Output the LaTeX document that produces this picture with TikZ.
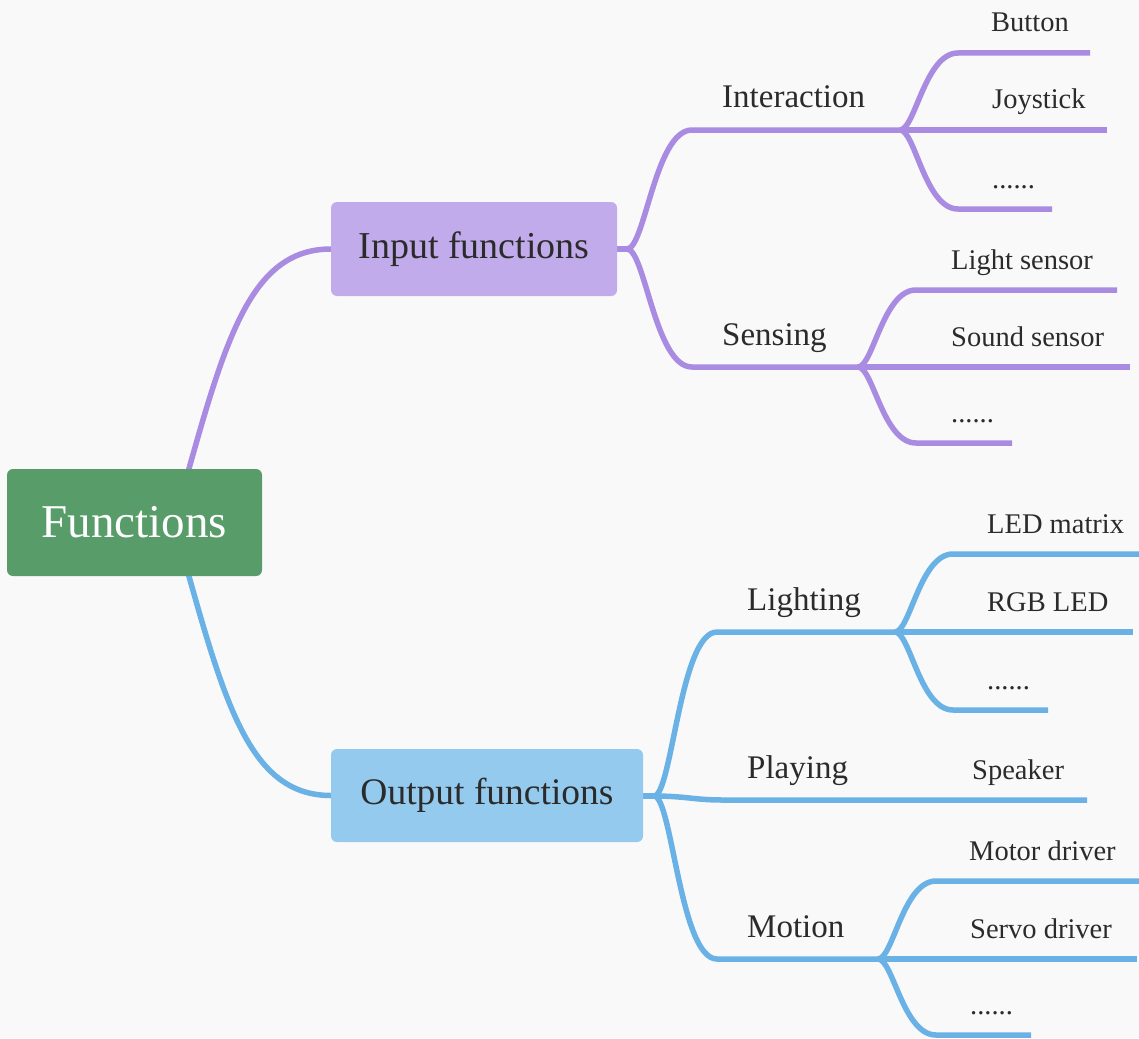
\documentclass[tikz,border=0pt]{standalone}
\usepackage{fontspec}
\setmainfont{Liberation Serif}
\definecolor{bgc}{HTML}{F9F9FA}
\definecolor{purp}{HTML}{A98BE1}
\definecolor{purpfill}{HTML}{C1ABEB}
\definecolor{blu}{HTML}{6AB2E5}
\definecolor{blufill}{HTML}{94CAEE}
\definecolor{grn}{HTML}{579C69}
\definecolor{txt}{HTML}{2B2B2B}
\begin{document}
\begin{tikzpicture}[x=1pt,y=-1pt,
  pline/.style={draw=purp,line width=5.5pt},
  bline/.style={draw=blu,line width=5.5pt},
  rootbox/.style={fill=grn,rounded corners=6pt,text=white,minimum width=255pt,minimum height=107pt,inner sep=0pt,font=\fontsize{47}{50}\selectfont},
  inbox/.style={fill=purpfill,rounded corners=6pt,text=txt,minimum width=286pt,minimum height=94pt,inner sep=0pt,font=\fontsize{38}{40}\selectfont},
  outbox/.style={fill=blufill,rounded corners=6pt,text=txt,minimum width=312pt,minimum height=93pt,inner sep=0pt,font=\fontsize{37.5}{40}\selectfont},
  midlbl/.style={anchor=base west,inner sep=0pt,text=txt,font=\fontsize{33}{36}\selectfont},
  leaflbl/.style={anchor=base west,inner sep=0pt,text=txt,font=\fontsize{28.5}{30}\selectfont}]
\useasboundingbox (0,0) rectangle (1139,1038);
\fill[bgc] (0,0) rectangle (1139,1038);
\coordinate (r-up) at (183,490);
\coordinate (r-dn) at (183,555);
\coordinate (inp-w) at (331,249);
\coordinate (out-w) at (331,795.5);
% junctions and line ends
\coordinate (inp-e) at (617,249);
\coordinate (inp-j) at (627,249);
\coordinate (int-s) at (692,130);
\coordinate (int-j) at (900,130);
\coordinate (sen-s) at (692,367);
\coordinate (sen-j) at (858,367);
\coordinate (out-e) at (643,796);
\coordinate (out-j) at (654,796);
\coordinate (lig-s) at (717,632);
\coordinate (lig-j) at (895,632);
\coordinate (pla-s) at (722,800);
\coordinate (spk-e) at (1087,800);
\coordinate (mot-s) at (717,959);
\coordinate (mot-j) at (878,959);
% leaf curve ends / line ends
\coordinate (btn-s) at (958,53);  \coordinate (btn-e) at (1090,53);
\coordinate (joy-e) at (1107,130);
\coordinate (id-s) at (958,209);  \coordinate (id-e) at (1052,209);
\coordinate (lsn-s) at (916,290); \coordinate (lsn-e) at (1117,290);
\coordinate (ssn-e) at (1130,367);
\coordinate (sd-s) at (916,443);  \coordinate (sd-e) at (1012,443);
\coordinate (led-s) at (953,554); \coordinate (led-e) at (1139,554);
\coordinate (rgb-e) at (1133,632);
\coordinate (ld-s) at (953,710);  \coordinate (ld-e) at (1048,710);
\coordinate (mtr-s) at (936,881); \coordinate (mtr-e) at (1139,881);
\coordinate (srv-e) at (1137,959);
\coordinate (md-s) at (936,1035); \coordinate (md-e) at (1031,1035);
% root connectors
\draw[pline] (r-up) .. controls (225,340) and (250,249) .. (inp-w);
\draw[bline] (r-dn) .. controls (225,705) and (250,795.5) .. (out-w);
% input branch
\draw[pline] (inp-e) -- (inp-j);
\draw[pline] (inp-j) .. controls (645,249) and (655,130) .. (int-s) -- (int-j);
\draw[pline] (inp-j) .. controls (645,249) and (655,367) .. (sen-s) -- (sen-j);
% interaction leaves
\draw[pline] (int-j) .. controls (915,130) and (925,53) .. (btn-s) -- (btn-e);
\draw[pline] (int-j) -- (joy-e);
\draw[pline] (int-j) .. controls (915,130) and (925,209) .. (id-s) -- (id-e);
% sensing leaves
\draw[pline] (sen-j) .. controls (873,367) and (883,290) .. (lsn-s) -- (lsn-e);
\draw[pline] (sen-j) -- (ssn-e);
\draw[pline] (sen-j) .. controls (873,367) and (883,443) .. (sd-s) -- (sd-e);
% output branch
\draw[bline] (out-e) -- (out-j);
\draw[bline] (out-j) .. controls (672,796) and (680,632) .. (lig-s) -- (lig-j);
\draw[bline] (out-j) .. controls (685,796) and (695,800) .. (pla-s) -- (spk-e);
\draw[bline] (out-j) .. controls (672,796) and (680,959) .. (mot-s) -- (mot-j);
% lighting leaves
\draw[bline] (lig-j) .. controls (910,632) and (920,554) .. (led-s) -- (led-e);
\draw[bline] (lig-j) -- (rgb-e);
\draw[bline] (lig-j) .. controls (910,632) and (920,710) .. (ld-s) -- (ld-e);
% motion leaves
\draw[bline] (mot-j) .. controls (893,959) and (903,881) .. (mtr-s) -- (mtr-e);
\draw[bline] (mot-j) -- (srv-e);
\draw[bline] (mot-j) .. controls (893,959) and (903,1035) .. (md-s) -- (md-e);
% boxes
\node[rootbox] (root) at (134.5,522.5) {Functions};
\node[inbox] (inp) at (474,249) {Input functions};
\node[outbox] (out) at (487,795.5) {Output functions};
% mid labels
\node[midlbl] (int) at (722,108) {Interaction};
\node[midlbl] (sen) at (722,345) {Sensing};
\node[midlbl] (lig) at (747,610) {Lighting};
\node[midlbl] (pla) at (747,778) {Playing};
\node[midlbl] (mot) at (747,937) {Motion};
% leaf labels
\node[leaflbl] (btn) at (991,32) {Button};
\node[leaflbl] (joy) at (992,109) {Joystick};
\node[leaflbl] (id) at (992,188) {......};
\node[leaflbl] (lsn) at (951,269) {Light sensor};
\node[leaflbl] (ssn) at (951,346) {Sound sensor};
\node[leaflbl] (sd) at (951,422) {......};
\node[leaflbl] (led) at (987,533) {LED matrix};
\node[leaflbl] (rgb) at (987,611) {RGB LED};
\node[leaflbl] (ld) at (987,689) {......};
\node[leaflbl] (spk) at (972,779) {Speaker};
\node[leaflbl] (mtr) at (969,860) {Motor driver};
\node[leaflbl] (srv) at (970,938) {Servo driver};
\node[leaflbl] (md) at (970,1014) {......};
\end{tikzpicture}
\end{document}
